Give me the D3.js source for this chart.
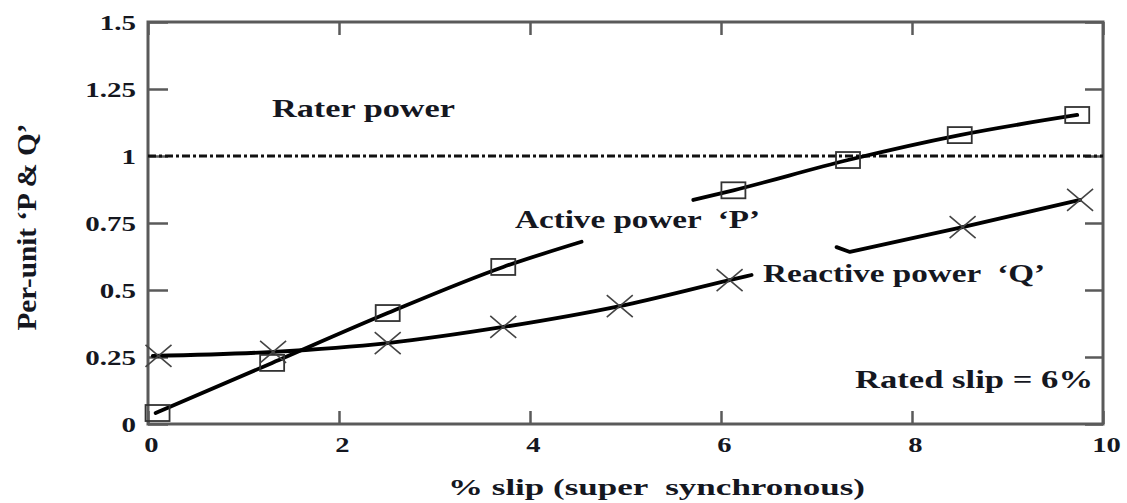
<!DOCTYPE html>
<html><head><meta charset="utf-8">
<script src="https://cdn.jsdelivr.net/npm/d3@7"></script>
<style>
html,body{margin:0;padding:0;background:#fff;}
svg{display:block;}
text{font-family:"Liberation Serif","Times New Roman",serif;font-weight:bold;fill:#15171f;}
</style></head>
<body>
<svg id="chart" width="1127" height="503"></svg>
<script>
// ---- data ----
const xTicks = [0, 2, 4, 6, 8, 10];
const xTickLabels = ["0", "2", "4", "6", "8", "10"];
const yTicks = [0, 0.25, 0.5, 0.75, 1, 1.25, 1.5];
const yTickLabels = ["0", "0.25", "0.5", "0.75", "1", "1.25", "1.5"];

// Active power P (square markers)
const pSlip   = [0.10, 1.30, 2.51, 3.72, 6.13, 7.33, 8.50, 9.73];
const pValues = [0.041, 0.228, 0.414, 0.586, 0.872, 0.985, 1.078, 1.153];
// P curve, drawn in two pieces (broken around its label)
const pLine1Slip = [0.08, 1.30, 2.51, 3.72, 4.54];
const pLine1Val  = [0.041, 0.228, 0.414, 0.586, 0.680];
const pLine2Slip = [5.71, 6.13, 7.33, 8.50, 9.73];
const pLine2Val  = [0.836, 0.872, 0.985, 1.078, 1.153];

// Reactive power Q (cross markers)
const qSlip   = [0.11, 1.31, 2.51, 3.72, 4.94, 6.09, 8.53, 9.76];
const qValues = [0.254, 0.269, 0.302, 0.362, 0.440, 0.537, 0.735, 0.836];
const qLine1Slip = [0.05, 1.31, 2.51, 3.72, 4.94, 6.09, 6.32];
const qLine1Val  = [0.254, 0.269, 0.302, 0.362, 0.440, 0.537, 0.556];
const qLine2Slip = [7.21, 7.35, 8.53, 9.76];
const qLine2Val  = [0.660, 0.642, 0.735, 0.836];

// rated power reference
const ratedPower = 1;

const labels = {
  xTitle: "% slip (super  synchronous)",
  yTitle: "Per-unit \u2018P & Q\u2019",
  rated: "Rater power",
  active: "Active power  \u2018P\u2019",
  reactive: "Reactive power  \u2018Q\u2019",
  slip: "Rated slip = 6%"
};

// ---- layout ----
const svg = d3.select("#chart");
const m = {left: 148, right: 1103, top: 22, bottom: 424};
const x = d3.scaleLinear().domain([0, 10]).range([m.left, m.right]);
const y = d3.scaleLinear().domain([0, 1.5]).range([m.bottom, m.top]);

const frameColor = "#5a5a5a";

// axes (inward ticks)
const gx = svg.append("g").attr("transform", `translate(0,${m.bottom})`)
  .call(d3.axisBottom(x).tickValues(xTicks).tickFormat((d, i) => xTickLabels[i])
    .tickSizeInner(-13).tickSizeOuter(0).tickPadding(12));
const gy = svg.append("g").attr("transform", `translate(${m.left},0)`)
  .call(d3.axisLeft(y).tickValues(yTicks).tickFormat((d, i) => yTickLabels[i])
    .tickSizeInner(-20).tickSizeOuter(0).tickPadding(12));
const gx2 = svg.append("g").attr("transform", `translate(0,${m.top})`)
  .call(d3.axisTop(x).tickValues(xTicks).tickFormat("").tickSizeInner(-13).tickSizeOuter(0));
const gy2 = svg.append("g").attr("transform", `translate(${m.right},0)`)
  .call(d3.axisRight(y).tickValues(yTicks).tickFormat("").tickSizeInner(-18).tickSizeOuter(0));

[gx, gy, gx2, gy2].forEach(g => {
  g.select(".domain").remove();
  g.selectAll(".tick line").attr("stroke", frameColor).attr("stroke-width", 2.5);
});
gx.selectAll(".tick text").attr("font-size", 22).attr("fill", "#15171f")
  .attr("font-family", "Liberation Serif").attr("font-weight", "bold")
  .each(function() {
    const t = d3.select(this);
    const yy = +t.attr("y");
    t.attr("y", 0).attr("transform", `translate(3,${yy}) scale(1.3,1)`);
  });
gy.selectAll(".tick text").attr("font-size", 21).attr("fill", "#15171f")
  .attr("font-family", "Liberation Serif").attr("font-weight", "bold")
  .attr("dy", "0.36em")
  .each(function() {
    const t = d3.select(this);
    const xx = +t.attr("x");
    t.attr("x", 0).attr("transform", `translate(${xx},0) scale(1.38,1)`);
  });

// frame
svg.append("rect")
  .attr("x", x(0)).attr("y", y(1.5))
  .attr("width", x(10) - x(0)).attr("height", y(0) - y(1.5))
  .attr("fill", "none").attr("stroke", frameColor).attr("stroke-width", 3);

// rated power dash-dot line
svg.append("line")
  .attr("x1", x(0)).attr("x2", x(10)).attr("y1", y(ratedPower)).attr("y2", y(ratedPower))
  .attr("stroke", "#111").attr("stroke-width", 3).attr("stroke-dasharray", "8,3,3,3");

// lines
const line = d3.line().x(d => x(d[0])).y(d => y(d[1])).curve(d3.curveMonotoneX);
const zip = (a, b) => a.map((v, i) => [v, b[i]]);
[[pLine1Slip, pLine1Val], [pLine2Slip, pLine2Val], [qLine1Slip, qLine1Val]].forEach(([a, b]) => {
  svg.append("path").attr("d", line(zip(a, b)))
    .attr("fill", "none").attr("stroke", "#000").attr("stroke-width", 3.8)
    .attr("stroke-linecap", "round").attr("stroke-linejoin", "round");
});
svg.append("path").attr("d", d3.line().x(d => x(d[0])).y(d => y(d[1]))(zip(qLine2Slip, qLine2Val)))
  .attr("fill", "none").attr("stroke", "#000").attr("stroke-width", 3.8)
  .attr("stroke-linecap", "round").attr("stroke-linejoin", "round");

// square markers (P)
svg.append("g").selectAll("rect").data(zip(pSlip, pValues)).join("rect")
  .attr("x", d => x(d[0]) - 12).attr("y", d => y(d[1]) - 8)
  .attr("width", 24).attr("height", 16)
  .attr("fill", "none").attr("stroke", "#333").attr("stroke-width", 1.8);

// cross markers (Q)
svg.append("g").selectAll("path").data(zip(qSlip, qValues)).join("path")
  .attr("d", d => {
    const cx = x(d[0]), cy = y(d[1]);
    return `M${cx - 13},${cy - 11}L${cx + 13},${cy + 11}M${cx - 13},${cy + 11}L${cx + 13},${cy - 11}`;
  })
  .attr("fill", "none").attr("stroke", "#444").attr("stroke-width", 1.6);

// annotations
function label(txt, xPos, yPos, size, len) {
  svg.append("text").attr("x", xPos).attr("y", yPos)
    .attr("font-size", size).style("white-space", "pre")
    .attr("textLength", len).attr("lengthAdjust", "spacingAndGlyphs")
    .text(txt);
}
label(labels.rated, 272, 117, 26, 183);
label(labels.active, 515, 228, 26, 245);
label(labels.reactive, 763, 282, 26, 282);
label(labels.slip, 855, 388, 25, 238);
label(labels.xTitle, 448, 495, 24, 417);

svg.append("text")
  .attr("transform", "translate(36,227) rotate(-90)")
  .attr("text-anchor", "middle").attr("font-size", 27)
  .attr("textLength", 207).attr("lengthAdjust", "spacingAndGlyphs")
  .text(labels.yTitle);
</script>
</body></html>
